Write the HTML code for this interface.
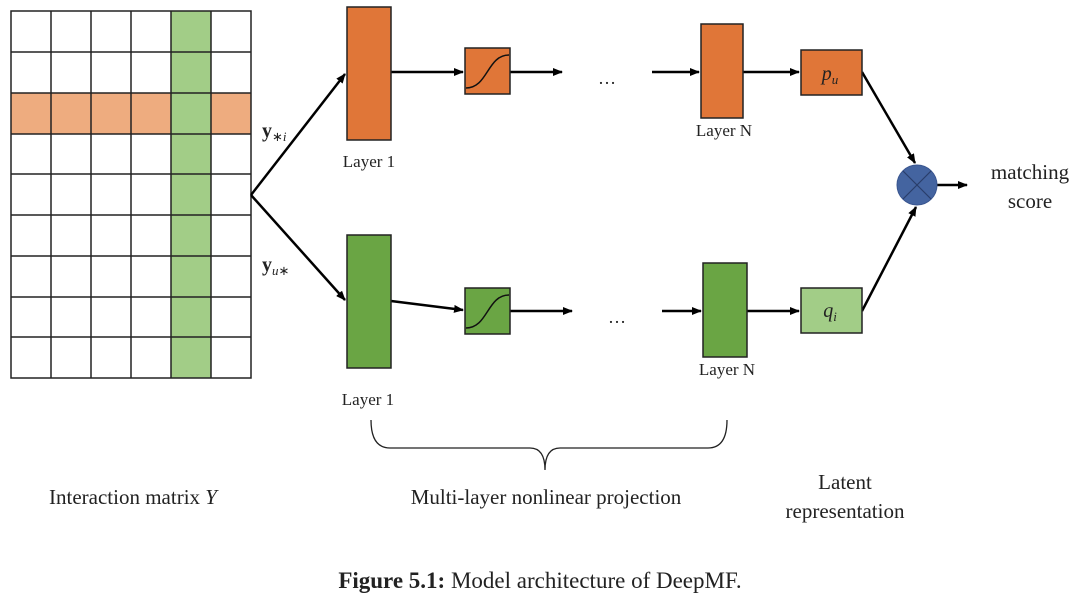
<!DOCTYPE html>
<html><head><meta charset="utf-8"><style>
html,body{margin:0;padding:0;background:#fff;}
svg{display:block;}
text{font-family:"Liberation Serif",serif;fill:#222;}
</style></head><body>
<svg width="1080" height="600" viewBox="0 0 1080 600" xmlns="http://www.w3.org/2000/svg">
<defs>
<marker id="a" markerWidth="10" markerHeight="8" refX="9" refY="4" orient="auto" markerUnits="userSpaceOnUse">
<path d="M0,0 L10,4 L0,8 z" fill="#000"/></marker>
</defs>
<!-- grid fills -->
<rect x="11" y="93" width="240" height="41" fill="#eeac7f"/>
<rect x="171" y="11" width="40" height="367" fill="#a2cd87"/>
<g stroke="#222" stroke-width="1.5" fill="none">
<rect x="11" y="11" width="240" height="367"/>
<line x1="51" y1="11" x2="51" y2="378"/><line x1="91" y1="11" x2="91" y2="378"/><line x1="131" y1="11" x2="131" y2="378"/><line x1="171" y1="11" x2="171" y2="378"/><line x1="211" y1="11" x2="211" y2="378"/>
<line x1="11" y1="52" x2="251" y2="52"/><line x1="11" y1="93" x2="251" y2="93"/><line x1="11" y1="134" x2="251" y2="134"/><line x1="11" y1="174" x2="251" y2="174"/><line x1="11" y1="215" x2="251" y2="215"/><line x1="11" y1="256" x2="251" y2="256"/><line x1="11" y1="297" x2="251" y2="297"/><line x1="11" y1="337" x2="251" y2="337"/>
</g>
<!-- arrows -->
<g stroke="#000" stroke-width="2.5" fill="none">
<line x1="251" y1="195" x2="345" y2="74" marker-end="url(#a)"/>
<line x1="251" y1="195" x2="345" y2="300" marker-end="url(#a)"/>
<line x1="391" y1="72" x2="463" y2="72" marker-end="url(#a)"/>
<line x1="510" y1="72" x2="562" y2="72" marker-end="url(#a)"/>
<line x1="652" y1="72" x2="699" y2="72" marker-end="url(#a)"/>
<line x1="743" y1="72" x2="799" y2="72" marker-end="url(#a)"/>
<line x1="391" y1="301" x2="463" y2="310" marker-end="url(#a)"/>
<line x1="510" y1="311" x2="572" y2="311" marker-end="url(#a)"/>
<line x1="662" y1="311" x2="701" y2="311" marker-end="url(#a)"/>
<line x1="747" y1="311" x2="799" y2="311" marker-end="url(#a)"/>
<line x1="862" y1="72" x2="915" y2="163" marker-end="url(#a)"/>
<line x1="862" y1="311" x2="916" y2="207" marker-end="url(#a)"/>
<line x1="937" y1="185" x2="967" y2="185" marker-end="url(#a)"/>
</g>
<!-- boxes -->
<g stroke="#222" stroke-width="1.5">
<rect x="347" y="7" width="44" height="133" fill="#e07638"/>
<rect x="465" y="48" width="45" height="46" fill="#e07638"/>
<rect x="701" y="24" width="42" height="94" fill="#e07638"/>
<rect x="801" y="50" width="61" height="45" fill="#e07638"/>
<rect x="347" y="235" width="44" height="133" fill="#6aa544"/>
<rect x="465" y="288" width="45" height="46" fill="#6aa544"/>
<rect x="703" y="263" width="44" height="94" fill="#6aa544"/>
<rect x="801" y="288" width="61" height="45" fill="#a2cd87"/>
</g>
<g stroke="#111" stroke-width="1.5" fill="none">
<path d="M466,88 C488,88 487,55 509,55"/>
<path d="M466,328 C488,328 487,295 509,295"/>
</g>
<circle cx="917" cy="185" r="20" fill="#4464a0" stroke="#3a5690" stroke-width="1"/>
<line x1="903" y1="171" x2="931" y2="199" stroke="#2a3e6a" stroke-width="1.2"/>
<line x1="931" y1="171" x2="903" y2="199" stroke="#2a3e6a" stroke-width="1.2"/>
<!-- brace -->
<path d="M371,420 Q371,448 390,448 L530,448 Q545,448 545,470 Q545,448 560,448 L708,448 Q727,448 727,420" stroke="#222" stroke-width="1.3" fill="none"/>
<!-- text -->
<g font-size="17">
<text x="369" y="167" text-anchor="middle">Layer 1</text>
<text x="724" y="136" text-anchor="middle">Layer N</text>
<text x="368" y="405" text-anchor="middle">Layer 1</text>
<text x="727" y="375" text-anchor="middle">Layer N</text>
</g>
<text x="607" y="84" font-size="18" text-anchor="middle">…</text>
<text x="617" y="323" font-size="18" text-anchor="middle">…</text>
<text x="830" y="80" font-size="20" font-style="italic" text-anchor="middle">p<tspan font-size="13" dy="4">u</tspan></text>
<text x="830" y="317" font-size="20" font-style="italic" text-anchor="middle">q<tspan font-size="13" dy="4">i</tspan></text>
<text x="262" y="137" font-size="20" font-weight="bold">y<tspan font-size="13" font-weight="normal" dy="4">∗<tspan font-style="italic">i</tspan></tspan></text>
<text x="262" y="271" font-size="20" font-weight="bold">y<tspan font-size="13" font-weight="normal" font-style="italic" dy="4">u</tspan><tspan font-size="13" font-weight="normal">∗</tspan></text>
<g font-size="21" text-anchor="middle">
<text x="1030" y="179">matching</text>
<text x="1030" y="208">score</text>
<text x="133" y="504">Interaction matrix <tspan font-style="italic">Y</tspan></text>
<text x="546" y="504">Multi-layer nonlinear projection</text>
<text x="845" y="489">Latent</text>
<text x="845" y="518">representation</text>
</g>
<text x="540" y="588" font-size="23" text-anchor="middle"><tspan font-weight="bold">Figure 5.1:</tspan> Model architecture of DeepMF.</text>
</svg>
</body></html>
